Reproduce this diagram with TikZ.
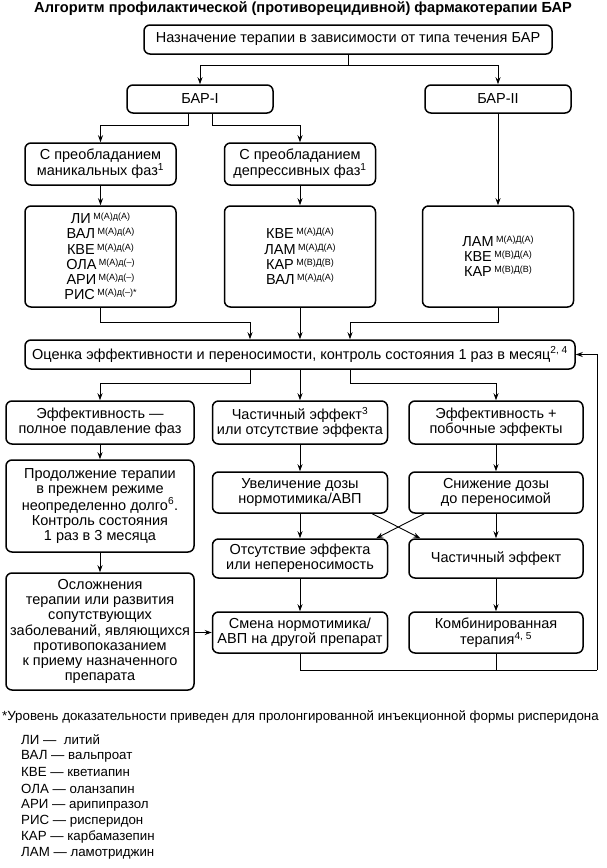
\documentclass[tikz,border=0pt]{standalone}
\usepackage{fontspec}
\setmainfont{Liberation Sans}
\usetikzlibrary{arrows.meta}
\newcommand\bxf{\fontsize{14.5}{15.2}\selectfont}
\newcommand\drf{\fontsize{14.5}{14.8}\selectfont}
\newcommand\spf{\fontsize{9}{9}\selectfont}
\newcommand\drug[2]{\drf #1\,\raisebox{4pt}{\spf #2}}
\begin{document}
\begin{tikzpicture}[x=1pt,y=-1pt,
  box/.style={draw, rounded corners=6pt, line width=1.5pt, align=center, inner sep=0pt, font=\bxf},
  ln/.style={line width=0.9pt},
  ar/.style={line width=0.9pt, -{Stealth[length=7pt,width=5pt]}},
  leg/.style={anchor=west, inner sep=0pt, font=\fontsize{13.3}{15}\selectfont},
]
\useasboundingbox (0,0) rectangle (606,868);
\node[font=\fontsize{14.6}{16}\selectfont\bfseries] (title) at (303,9) {Алгоритм профилактической (противорецидивной) фармакотерапии БАР};
\node[box, minimum width=408, minimum height=29] (top) at (348,39.5) {Назначение терапии в зависимости от типа течения БАР};
\node[box, minimum width=146, minimum height=28] (bar1) at (200,99) {БАР-I};
\node[box, minimum width=146, minimum height=28] (bar2) at (498,99) {БАР-II};
\node[box, minimum width=151, minimum height=42] (mania) at (100.5,164) {С преобладанием\\маникальных фаз\textsuperscript{1}};
\node[box, minimum width=151, minimum height=42] (depr) at (300,164) {С преобладанием\\депрессивных фаз\textsuperscript{1}};
\node[box, minimum width=151, minimum height=101] (drug1) at (100.5,256.5) {\drug{ЛИ}{М(А)д(А)}\\\drug{ВАЛ}{М(А)д(А)}\\\drug{КВЕ}{М(А)д(А)}\\\drug{ОЛА}{М(А)д(–)}\\\drug{АРИ}{М(А)д(–)}\\\drug{РИС}{М(А)д(–)*}};
\node[box, minimum width=151, minimum height=101] (drug2) at (300,256.5) {\drug{КВЕ}{М(А)Д(А)}\\\drug{ЛАМ}{М(А)Д(А)}\\\drug{КАР}{М(В)Д(В)}\\\drug{ВАЛ}{М(А)д(А)}};
\node[box, minimum width=151, minimum height=101] (drug3) at (498,256.5) {\drug{ЛАМ}{М(А)Д(А)}\\\drug{КВЕ}{М(В)Д(А)}\\\drug{КАР}{М(В)Д(В)}};
\node[box, minimum width=550, minimum height=29] (oc) at (300,354.5) {Оценка эффективности и переносимости, контроль состояния 1 раз в месяц\textsuperscript{2, 4}};
\node[box, minimum width=188, minimum height=43] (r3a) at (100,422.5) {Эффективность —\\полное подавление фаз};
\node[box, minimum width=175, minimum height=43] (r3b) at (300,422.5) {Частичный эффект\textsuperscript{3}\\или отсутствие эффекта};
\node[box, minimum width=174, minimum height=43] (r3c) at (496,422.5) {Эффективность +\\побочные эффекты};
\node[box, minimum width=188, minimum height=92] (r4a) at (100,506) {Продолжение терапии\\в прежнем режиме\\неопределенно долго\textsuperscript{6}.\\Контроль состояния\\1 раз в 3 месяца};
\node[box, minimum width=175, minimum height=41] (r4b) at (300,492.5) {Увеличение дозы\\нормотимика/АВП};
\node[box, minimum width=174, minimum height=41] (r4c) at (496,492.5) {Снижение дозы\\до переносимой};
\node[box, minimum width=175, minimum height=39] (r5b) at (300,558.5) {Отсутствие эффекта\\или непереносимость};
\node[box, minimum width=174, minimum height=39] (r5c) at (496,558.5) {Частичный эффект};
\node[box, minimum width=188, minimum height=117] (r6a) at (100,631.5) {Осложнения\\терапии или развития\\сопутствующих\\заболеваний, являющихся\\противопоказанием\\к приему назначенного\\препарата};
\node[box, minimum width=175, minimum height=41] (r6b) at (300,632.5) {Смена нормотимика/\\АВП на другой препарат};
\node[box, minimum width=174, minimum height=41] (r6c) at (496,632.5) {Комбинированная\\терапия\textsuperscript{4, 5}};
\coordinate (lp) at (597,670);
% connectors
\draw[ln] (top.south) -- ++(0,11) coordinate (j0);
\draw[ar] (j0) -| (bar1.north);
\draw[ar] (j0) -| (bar2.north);
\draw[ar] ([xshift=-12pt]bar1.south) -- ++(0,12) -| (mania.north);
\draw[ar] ([xshift=12pt]bar1.south) -- ++(0,12) -| (depr.north);
\draw[ar] (bar2.south) -- (drug3.north);
\draw[ar] (mania.south) -- (drug1.north);
\draw[ar] (depr.south) -- (drug2.north);
\draw[ar] (drug1.south) -- ++(0,15) -| ([xshift=-50pt]oc.north);
\draw[ar] (drug2.south) -- (oc.north);
\draw[ar] (drug3.south) -- ++(0,15) -| ([xshift=50pt]oc.north);
\draw[ar] ([xshift=-50pt]oc.south) -- ++(0,14) -| (r3a.north);
\draw[ar] (oc.south) -- (r3b.north);
\draw[ar] ([xshift=50pt]oc.south) -- ++(0,14) -| (r3c.north);
\draw[ar] (r3a.south) -- (r4a.north);
\draw[ar] (r4a.south) -- (r6a.north);
\draw[ar] (r3b.south) -- (r4b.north);
\draw[ar] (r4b.south) -- (r5b.north);
\draw[ar] (r5b.south) -- (r6b.north);
\draw[ar] (r3c.south) -- (r4c.north);
\draw[ar] (r4c.south) -- (r5c.north);
\draw[ar] (r5c.south) -- (r6c.north);
\draw[ar] ([xshift=-16pt]r4b.south east) -- ([xshift=12pt]r5c.north west);
\draw[ar] ([xshift=16pt]r4c.south west) -- ([xshift=-12pt]r5b.north east);
\draw[ar] (r6a.east |- r6b.west) -- (r6b.west);
\draw[ln] (r6b.south) -- (r6b.south |- lp) -- (lp);
\draw[ln] (r6c.south) -- (r6c.south |- lp);
\draw[ar] (lp) |- (oc.east);
% footnote and legend
\node[leg] (fn) at (2,717) {*Уровень доказательности приведен для пролонгированной инъекционной формы рисперидона};
\node[leg] (l1) at (21,740) {ЛИ —\ \ литий};
\node[leg] (l2) at (21,756.2) {ВАЛ — вальпроат};
\node[leg] (l3) at (21,772.4) {КВЕ — кветиапин};
\node[leg] (l4) at (21,788.6) {ОЛА — оланзапин};
\node[leg] (l5) at (21,804.8) {АРИ — арипипразол};
\node[leg] (l6) at (21,821) {РИС — рисперидон};
\node[leg] (l7) at (21,837.2) {КАР — карбамазепин};
\node[leg] (l8) at (21,853.4) {ЛАМ — ламотриджин};
\end{tikzpicture}
\end{document}
